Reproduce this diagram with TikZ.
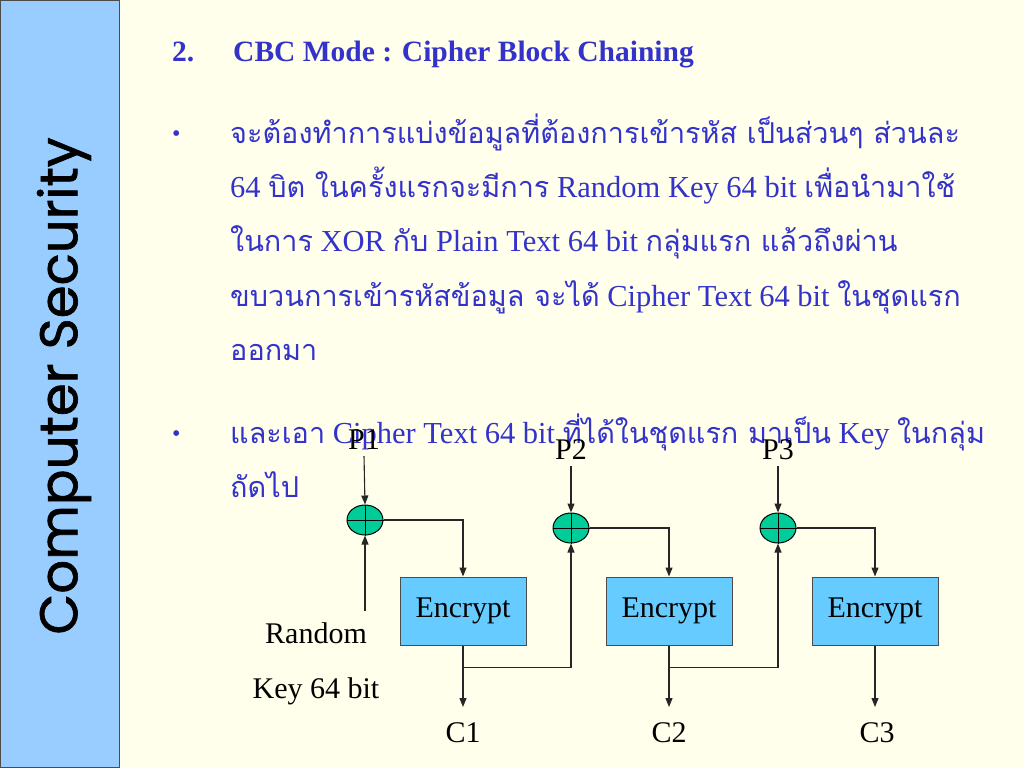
\documentclass[tikz,border=0pt]{standalone}
\usepackage{fontspec}
\setmainfont{Liberation Serif}
\newfontfamily\thaifont[Script=Thai]{Loma}
\newfontfamily\compfont[FakeBold=1.2]{Poppins}
\newcommand\T[1]{{\thaifont\fontsize{28.8}{32}\selectfont #1}}
\usetikzlibrary{shapes.geometric,arrows.meta}
\definecolor{bgcream}{RGB}{255,255,235}
\definecolor{sidebar}{RGB}{153,204,255}
\definecolor{txtblue}{RGB}{51,51,204}
\definecolor{encfill}{RGB}{102,204,255}
\definecolor{xorfill}{RGB}{0,204,153}
\tikzset{
  bodytxt/.style={anchor=base west,inner sep=0pt,text=txtblue,font=\fontsize{30.5}{34}\selectfont},
  bullet/.style={anchor=base west,inner sep=0pt,text=txtblue,font=\fontsize{24}{28}\selectfont},
  lbl/.style={inner sep=0pt,text=black,font=\fontsize{30}{34}\selectfont},
  encbox/.style={draw=black!70,fill=encfill,line width=1pt,minimum width=126pt,minimum height=68pt,inner sep=0pt,font=\fontsize{30}{34}\selectfont,text=black},
  xorsym/.style={ellipse,draw=black,fill=xorfill,line width=1pt,minimum width=36pt,minimum height=30pt,inner sep=0pt},
  conn/.style={draw=black!85,line width=1.1pt},
  arr/.style={conn,-{Triangle[length=9pt,width=7pt]}}
}
\begin{document}
\begin{tikzpicture}[x=1pt,y=-1pt]
\useasboundingbox (0,0) rectangle (1024,768);
\fill[bgcream] (0,0) rectangle (1024,768);
\filldraw[fill=sidebar,draw=black!70,line width=1pt] (0.5,0.5) rectangle (119.5,767.5);
\node[rotate=90,inner sep=0pt,font=\compfont\fontsize{53}{56}\selectfont] (side) at (64,386) {Computer Security};

% title
\node[anchor=base west,inner sep=0pt,text=txtblue,font=\bfseries\fontsize{29.5}{34}\selectfont] (num) at (172,61) {2.};
\node[anchor=base west,inner sep=0pt,text=txtblue,font=\bfseries\fontsize{29.5}{34}\selectfont] (title) at (233,61) {CBC Mode : Cipher Block Chaining};

% bullets
\node[bullet] (b1) at (172,141) {\textbullet};
\node[bullet] (b2) at (172,441) {\textbullet};

\node[bodytxt] (l1) at (230,143) {\T{จะต้องทำการแบ่งข้อมูลที่ต้องการเข้ารหัส เป็นส่วนๆ ส่วนละ}};
\node[bodytxt] (l2) at (230,197) {64 \T{บิต ในครั้งแรกจะมีการ} Random Key 64 bit \T{เพื่อนำมาใช้}};
\node[bodytxt] (l3) at (230,251) {\T{ในการ} XOR \T{กับ} Plain Text 64 bit \T{กลุ่มแรก แล้วถึงผ่าน}};
\node[bodytxt] (l4) at (230,306) {\T{ขบวนการเข้ารหัสข้อมูล จะได้} Cipher Text 64 bit \T{ในชุดแรก}};
\node[bodytxt] (l5) at (230,360) {\T{ออกมา}};
\node[bodytxt] (l6) at (230,443) {\T{และเอา} Cipher Text 64 bit \T{ที่ได้ในชุดแรก มาเป็น} Key \T{ในกลุ่ม}};
\node[bodytxt] (l7) at (230,497) {\T{ถัดไป}};

% diagram
\node[lbl] (p1) at (364,440) {P1};
\node[lbl] (p2) at (571,450) {P2};
\node[lbl] (p3) at (778,450) {P3};

\node[xorsym] (x1) at (365,520) {};
\node[xorsym] (x2) at (571,528) {};
\node[xorsym] (x3) at (778,528) {};
\foreach \x in {x1,x2,x3}{
  \draw[line width=1pt] (\x.north) -- (\x.south);
  \draw[line width=1pt] (\x.west) -- (\x.east);
}

\node[encbox] (e1) at (463,611) {Encrypt};
\node[encbox] (e2) at (669,611) {Encrypt};
\node[encbox] (e3) at (875,611) {Encrypt};

\node[lbl] (c1) at (463,733) {C1};
\node[lbl] (c2) at (669,733) {C2};
\node[lbl] (c3) at (877,733) {C3};

\node[lbl,anchor=base] (r1) at (316,643) {Random};
\node[lbl,anchor=base] (r2) at (316,698) {Key 64 bit};

\coordinate (k1) at (365,611);
\coordinate (c1top) at (463,707);
\coordinate (c2top) at (669,707);
\coordinate (c3top) at (875,707);

\draw[arr] (p1.south) ++(0,6) -- (x1.north);
\draw[arr] (x2.north |- p2.south) ++(0,6) -- (x2.north);
\draw[arr] (x3.north |- p3.south) ++(0,6) -- (x3.north);
\draw[arr] (k1) -- (x1.south);

\draw[arr] (x1.east) -| (e1.north);
\draw[arr] (x2.east) -| (e2.north);
\draw[arr] (x3.east) -| (e3.north);

\draw[arr] (e1.south) -- (c1top);
\draw[arr] (e2.south) -- (c2top);
\draw[arr] (e3.south) -- (c3top);

\draw[arr] (e1.south) ++(0,22) -| (x2.south);
\draw[arr] (e2.south) ++(0,22) -| (x3.south);
\end{tikzpicture}
\end{document}
